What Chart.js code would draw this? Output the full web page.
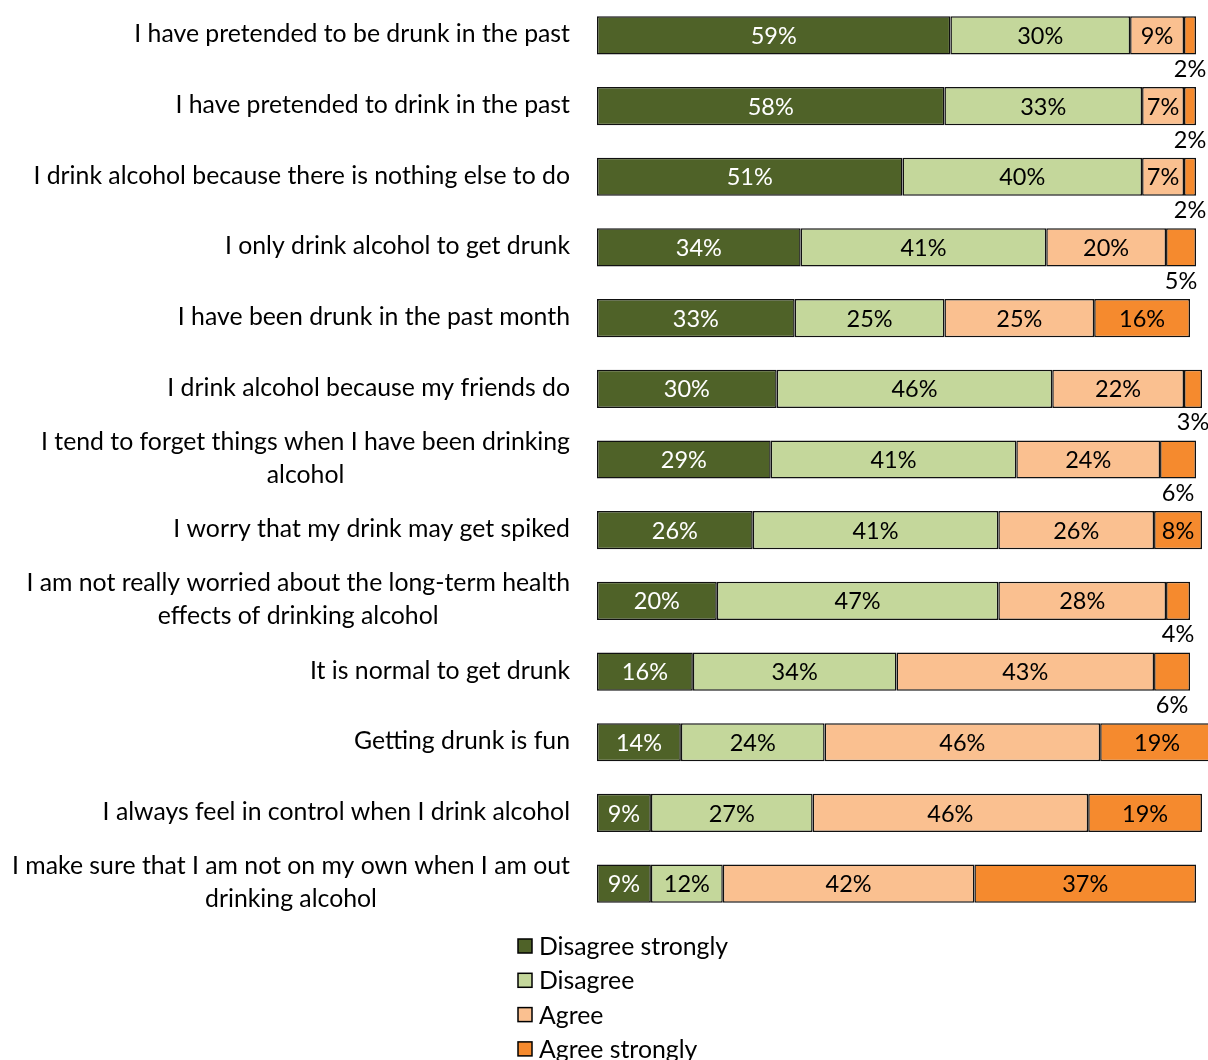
<!DOCTYPE html>
<html>
<head>
<meta charset="utf-8">
<title>Attitudes to drinking</title>
<script src="https://cdn.jsdelivr.net/npm/chart.js@4/dist/chart.umd.min.js"></script>
<style>
  html, body { margin: 0; padding: 0; background: #fff; }
  #wrap { width: 1208px; height: 1060px; position: relative; }
</style>
</head>
<body>
<div id="wrap"><canvas id="myChart" width="1208" height="1060"></canvas></div>
<script>
const categories = [
  'I have pretended to be drunk in the past',
  'I have pretended to drink in the past',
  'I drink alcohol because there is nothing else to do',
  'I only drink alcohol to get drunk',
  'I have been drunk in the past month',
  'I drink alcohol because my friends do',
  ['I tend to forget things when I have been drinking', 'alcohol'],
  'I worry that my drink may get spiked',
  ['I am not really worried about the long-term health', 'effects of drinking alcohol'],
  'It is normal to get drunk',
  'Getting drunk is fun',
  'I always feel in control when I drink alcohol',
  ['I make sure that I am not on my own when I am out', 'drinking alcohol']
];
const seriesNames = ['Disagree strongly', 'Disagree', 'Agree', 'Agree strongly'];
const disagreeStrongly = [59, 58, 51, 34, 33, 30, 29, 26, 20, 16, 14, 9, 9];
const disagree         = [30, 33, 40, 41, 25, 46, 41, 41, 47, 34, 24, 27, 12];
const agree            = [9, 7, 7, 20, 25, 22, 24, 26, 28, 43, 46, 46, 42];
const agreeStrongly    = [2, 2, 2, 5, 16, 3, 6, 8, 4, 6, 19, 19, 37];
const colors = ['#4f6228', '#c4d79b', '#fac090', '#f58a2e'];

const FONT = '24.8px Lato, "Open Sans", sans-serif';
const VALUE_FONT = '23.5px Lato, "Open Sans", sans-serif';

// percentage labels inside each segment (under the bar when it's too thin)
const barLabels = {
  id: 'barLabels',
  afterDatasetsDraw(chart) {
    const ctx = chart.ctx;
    ctx.save();
    ctx.font = VALUE_FONT;
    ctx.textAlign = 'center';
    ctx.textBaseline = 'middle';
    chart.data.datasets.forEach((ds, i) => {
      chart.getDatasetMeta(i).data.forEach((bar, j) => {
        const v = ds.data[j];
        const cx = (bar.x + bar.base) / 2;
        if (v < 7) {
          ctx.fillStyle = '#000';
          ctx.fillText(v + '%', cx, bar.y + 34);
        } else {
          ctx.fillStyle = i === 0 ? '#fff' : '#000';
          ctx.fillText(v + '%', cx, bar.y + 1);
        }
      });
    });
    ctx.restore();
  }
};

// category names: right-aligned block, wrapped lines centred in it
const categoryLabels = {
  id: 'categoryLabels',
  afterDraw(chart) {
    const ctx = chart.ctx;
    const yScale = chart.scales.y;
    const right = 570, lineH = 33;
    ctx.save();
    ctx.font = FONT;
    ctx.fillStyle = '#000';
    ctx.textAlign = 'center';
    ctx.textBaseline = 'middle';
    chart.data.labels.forEach((lab, i) => {
      const lines = Array.isArray(lab) ? lab : [lab];
      const w = Math.max(...lines.map(l => ctx.measureText(l).width));
      const cy = yScale.getPixelForTick(i);
      const y0 = cy - (lines.length - 1) * lineH / 2 - 1;
      lines.forEach((l, k) => ctx.fillText(l, right - w / 2, y0 + k * lineH));
    });
    ctx.restore();
  }
};

// stacked legend under the chart
const listLegend = {
  id: 'listLegend',
  afterDraw(chart) {
    const ctx = chart.ctx;
    ctx.save();
    ctx.font = FONT;
    ctx.textBaseline = 'middle';
    chart.data.datasets.forEach((ds, i) => {
      const y = 946 + i * 34.3;
      ctx.fillStyle = ds.backgroundColor;
      ctx.fillRect(518, y - 7, 14, 14);
      ctx.strokeStyle = '#000';
      ctx.lineWidth = 1.5;
      ctx.strokeRect(518, y - 7, 14, 14);
      ctx.fillStyle = '#000';
      ctx.fillText(ds.label, 539, y + 1);
    });
    ctx.restore();
  }
};

const values = [disagreeStrongly, disagree, agree, agreeStrongly];
const data = {
  labels: categories,
  datasets: seriesNames.map((name, i) => ({
    label: name,
    data: values[i],
    backgroundColor: colors[i],
    borderColor: '#111',
    borderWidth: 1.5,
    borderSkipped: false,
    barPercentage: 0.54,
    categoryPercentage: 1,
    clip: false
  }))
};

const config = {
  type: 'bar',
  data,
  options: {
    indexAxis: 'y',
    responsive: false,
    animation: false,
    events: [],
    layout: { padding: { left: 0, right: 12, top: 0, bottom: 141 } },
    scales: {
      x: { stacked: true, display: false, min: 0, max: 100 },
      y: {
        stacked: true,
        grid: { display: false },
        border: { display: false },
        ticks: { display: false },
        afterFit(scale) { scale.width = 597; }
      }
    },
    plugins: {
      legend: { display: false },
      tooltip: { enabled: false }
    }
  },
  plugins: [barLabels, categoryLabels, listLegend]
};

const chart = new Chart(document.getElementById('myChart'), config);
</script>
</body>
</html>
